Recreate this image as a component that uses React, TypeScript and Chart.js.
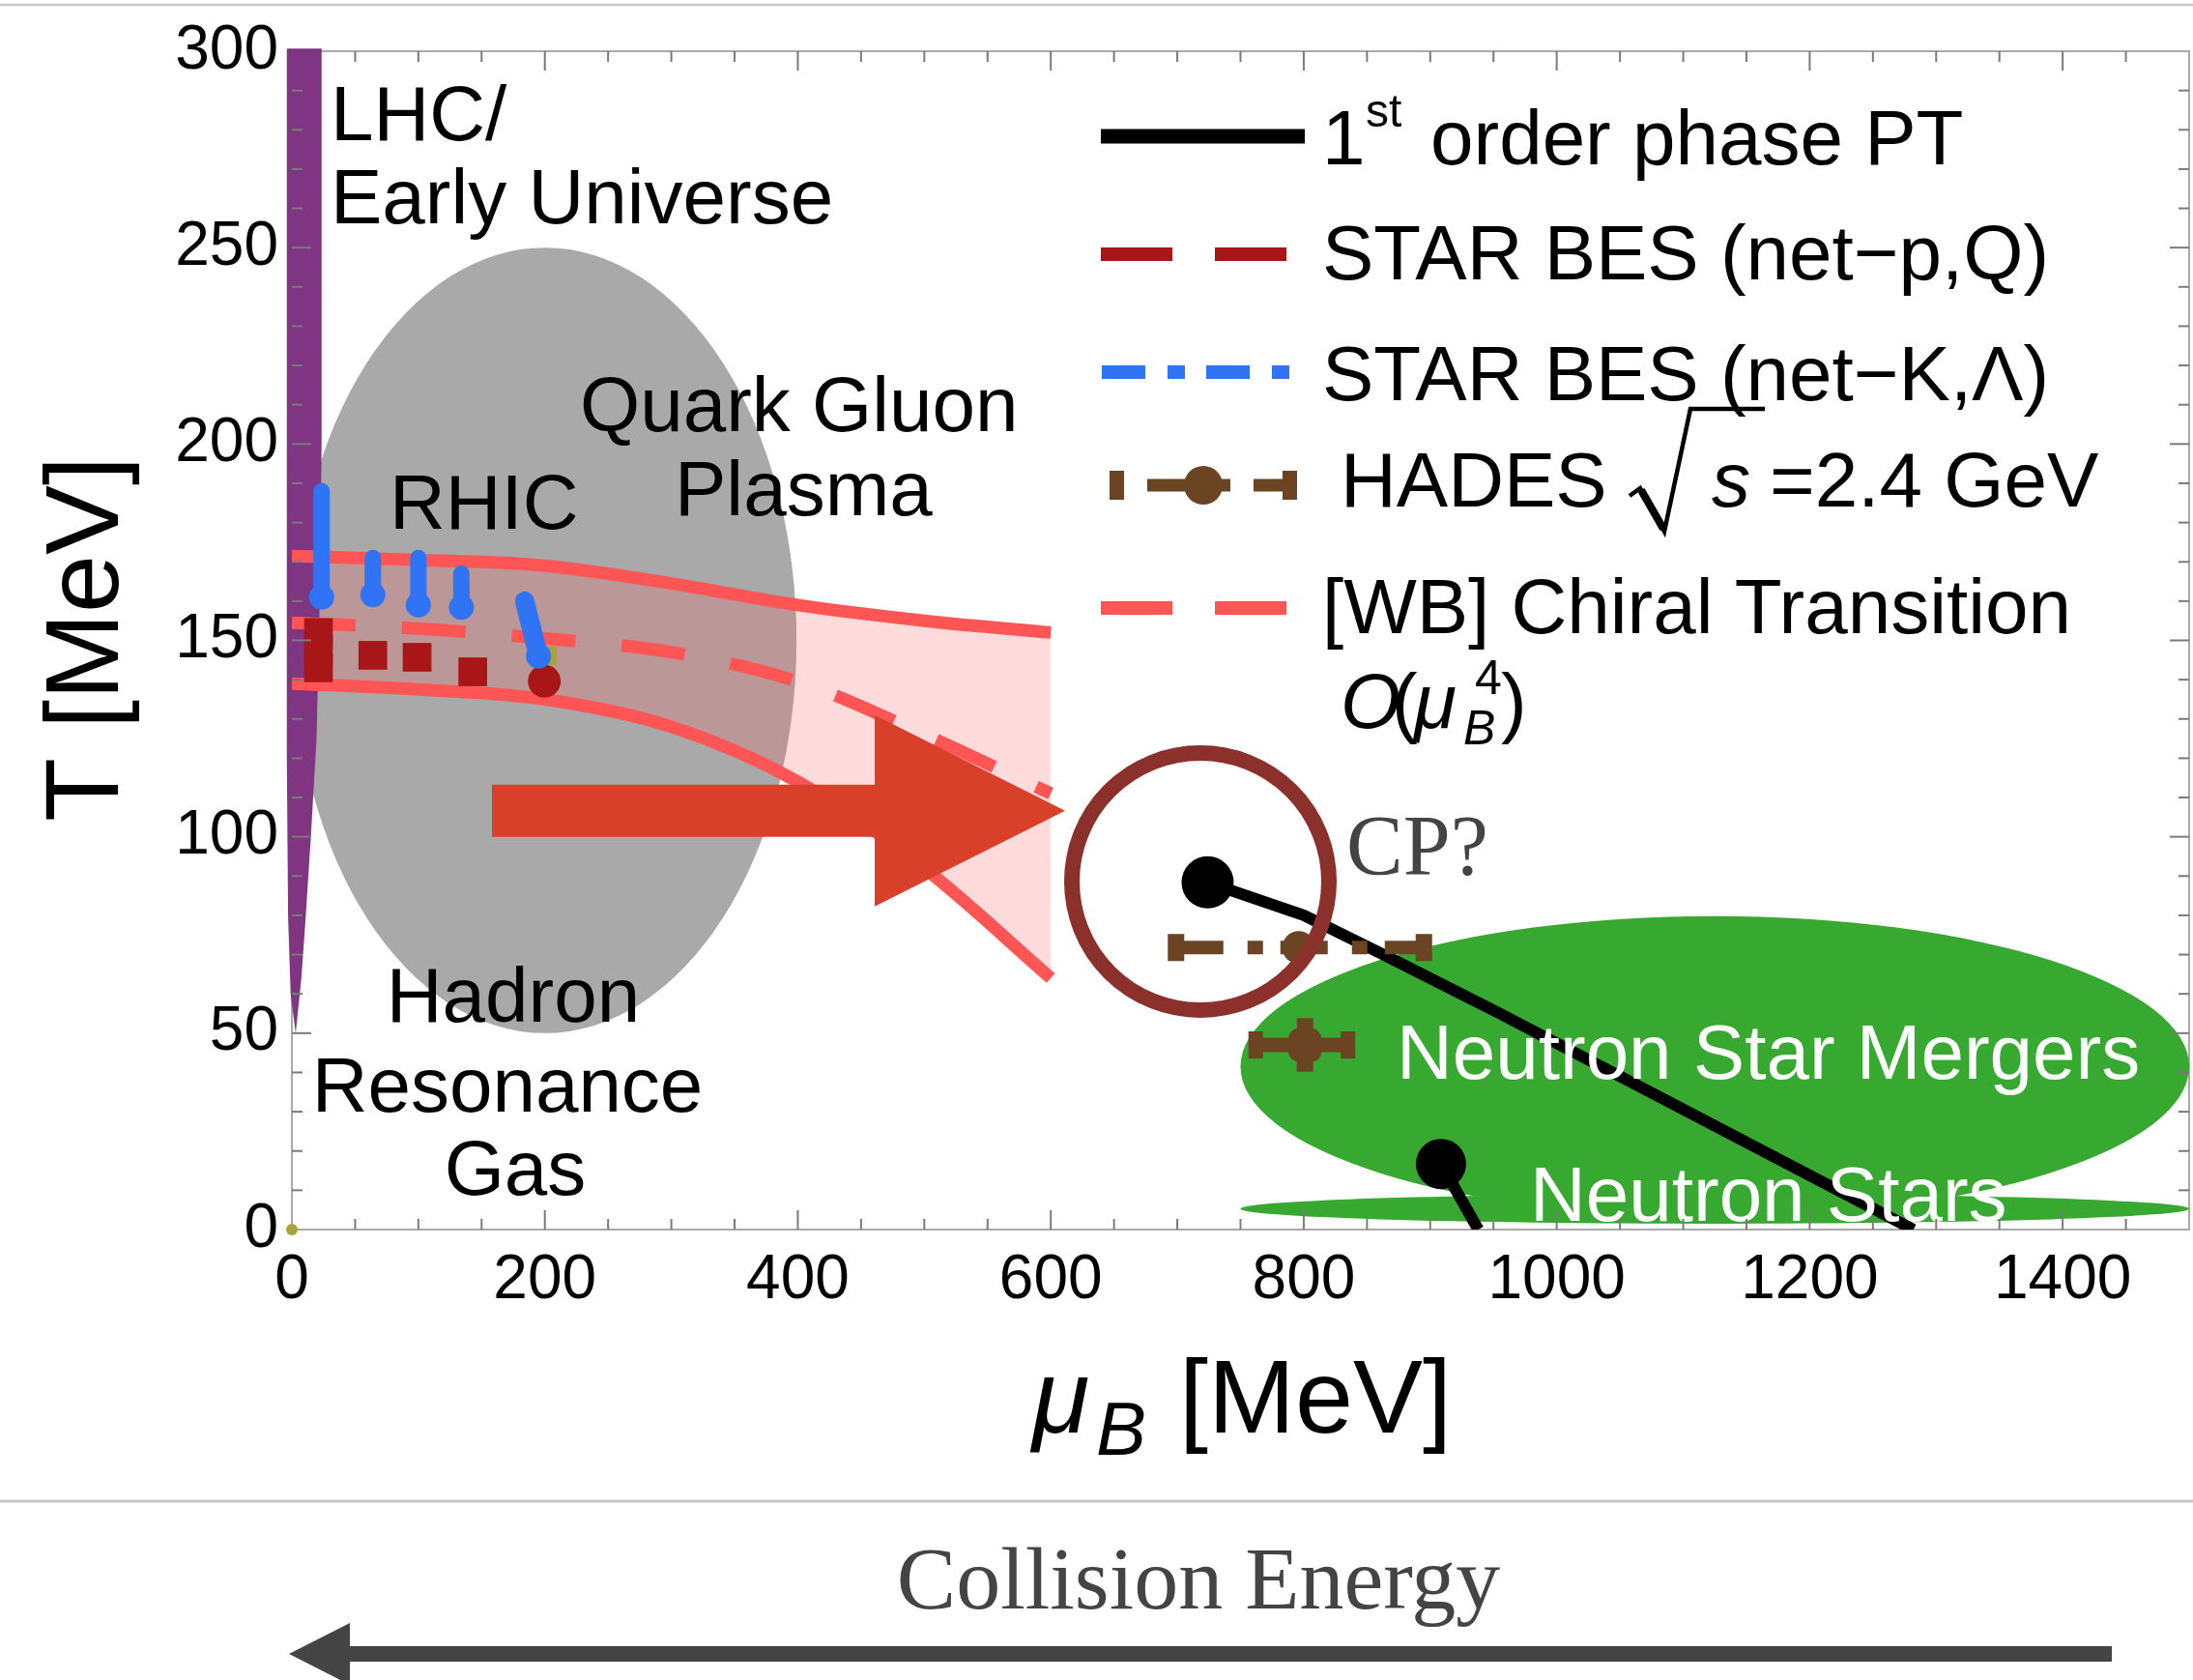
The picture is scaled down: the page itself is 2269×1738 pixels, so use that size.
import React, { useEffect, useRef } from "react";
import { Chart, registerables } from "chart.js";

Chart.register(...registerables);

const W = 2269;
const H = 1738;
const SANS = '"Liberation Sans", Arial, Helvetica, sans-serif';
const SERIF = '"Liberation Serif", "Times New Roman", Times, serif';

// ---------- axes ----------
const X_RANGE = [0, 1500];
const Y_RANGE = [0, 300];
const X_TICK_VALUES = [0, 200, 400, 600, 800, 1000, 1200, 1400];
const Y_TICK_VALUES = [0, 50, 100, 150, 200, 250, 300];
const X_MINOR_STEP = 50;
const X_MAJOR_STEP = 200;
const Y_MINOR_STEP = 10;
const Y_MAJOR_STEP = 50;

// ---------- LHC / Early Universe band (outline, mu, T) ----------
const LHC_MU = [-4, 23.5, 23.5, 22, 19.5, 15, 11, 7.5, 3, -1, -3, -4, -4];
const LHC_T = [300.7, 300.7, 200, 160, 125, 100, 80, 64, 50, 60, 80, 120, 300.7];

// ---------- [WB] chiral transition O(muB^4) ----------
const WB_MU = [0, 100, 200, 300, 400, 500, 600];
const WB_UPPER = [171.5, 170.5, 169, 164.5, 159, 155, 152];
const WB_CENTER = [154.5, 153, 150.5, 147, 139.5, 126, 111];
const WB_LOWER = [139, 137.5, 135, 128, 114, 92, 64];

// ---------- STAR BES (net-p, Q) ----------
const NETP_MU = [21, 21, 21, 64, 99, 143];
const NETP_T = [152, 147.5, 143, 146.2, 145.7, 142];
const NETQ_MU = [199.6];
const NETQ_T = [139.6];

// ---------- STAR BES (net-K, Lambda): error bars low -> high ----------
const NETK_MU_LOW = [23.5, 64, 100, 134, 195];
const NETK_T_LOW = [161, 161.6, 159, 158.4, 146];
const NETK_MU_HIGH = [23.5, 64, 100, 134, 184];
const NETK_T_HIGH = [188, 171, 171, 167, 160];

// ---------- other small marks ----------
const OLIVE_MU = [203, 203];
const OLIVE_T = [143.6, 148.5];
const ORIGIN_MU = [0];
const ORIGIN_T = [0];

// ---------- 1st order phase transition ----------
const FOPT_MU = [724, 800, 860, 955, 1282];
const FOPT_T = [88.4, 80, 70.5, 55, 0];
const FOPT2_MU = [908.5, 938];
const FOPT2_T = [16.7, 0];

// ---------- HADES sqrt(s)=2.4 GeV ----------
const HADES_MU = [797];
const HADES_T = [71.8];
const HADES_XERR = [98];

// ---------- brown point in neutron star merger region ----------
const NSM_MU = [801];
const NSM_T = [47];
const NSM_XERR = [39];
const NSM_YERR = [6.85];

// ---------- regions ----------
const QGP_ELLIPSE = { cx: 200, cy: 150, rx: 199, ry: 100 };
const NSM_ELLIPSE = { cx: 1125, cy: 41.5, rx: 375, ry: 38.3 };
const NS_ELLIPSE = { cx: 1125, cy: 5.3, rx: 375, ry: 3.8 };
const CP_RING = { mu: 718.3, t: 88.6 };
const RED_ARROW_MU = [158.2, 460.8, 611.3];
const RED_ARROW_T = 106.6;

// ---------- colours ----------
const PURPLE = "#7f3581";
const GRAY = "#a9a9a9";
const PINK_LINE = "#ff5555";
const PINK_FILL = "rgba(255,85,85,0.21)";
const DARK_RED = "#a81617";
const BLUE = "#2f74f5";
const OLIVE = "#a8a43a";
const BROWN = "#6b4423";
const GREEN = "#37a830";
const RING = "#8b302b";
const ARROW_RED = "#d94029";

const LHC_LABEL = "LHC/Early Universe";

const pts = (xs: number[], ys: number[]) => xs.map((x, i) => ({ x, y: ys[i] }));

function buildDatasets() {
  const ds: any[] = [];
  const base = { pointRadius: 0, fill: false, tension: 0, borderColor: "transparent", pointBorderWidth: 0 };
  // 0,1: pink band fill (invisible borders)
  ds.push({ ...base, label: "WB band upper", data: pts(WB_MU, WB_UPPER), fill: 1, backgroundColor: PINK_FILL, cubicInterpolationMode: "monotone", order: 100 });
  ds.push({ ...base, label: "WB band lower", data: pts(WB_MU, WB_LOWER), cubicInterpolationMode: "monotone", order: 99 });
  // purple LHC band (filled by plugin from the element positions, unclipped)
  ds.push({ ...base, label: LHC_LABEL, data: pts(LHC_MU, LHC_T), order: 90, clip: false });
  // WB lines
  const wbLine = { ...base, borderColor: PINK_LINE, borderWidth: 13, cubicInterpolationMode: "monotone", order: 80 };
  ds.push({ ...wbLine, label: "WB upper", data: pts(WB_MU, WB_UPPER) });
  ds.push({ ...wbLine, label: "WB lower", data: pts(WB_MU, WB_LOWER) });
  ds.push({ ...wbLine, label: "[WB] Chiral Transition", data: pts(WB_MU, WB_CENTER), borderDash: [66, 48] });
  // olive
  ds.push({ ...base, label: "olive", data: pts(OLIVE_MU, OLIVE_T), borderColor: OLIVE, borderWidth: 17, order: 70 });
  ds.push({ ...base, label: "origin", data: pts(ORIGIN_MU, ORIGIN_T), showLine: false, pointRadius: 6, pointBackgroundColor: OLIVE, order: 70, clip: false });
  // STAR net-p squares & circle
  ds.push({ ...base, label: "STAR BES (net-p,Q)", data: pts(NETP_MU, NETP_T), showLine: false, pointStyle: "rect", pointRadius: 21, pointBackgroundColor: DARK_RED, order: 60 });
  ds.push({ ...base, label: "STAR BES (Q)", data: pts(NETQ_MU, NETQ_T), showLine: false, pointStyle: "circle", pointRadius: 17, pointBackgroundColor: DARK_RED, order: 60 });
  // STAR net-K columns
  NETK_MU_LOW.forEach((m, i) => {
    ds.push({
      ...base,
      label: "STAR BES (net-K,Λ)",
      data: [{ x: m, y: NETK_T_LOW[i] }, { x: NETK_MU_HIGH[i], y: NETK_T_HIGH[i] }],
      borderColor: BLUE,
      borderWidth: i === 4 ? 20 : 17,
      borderCapStyle: "round",
      pointRadius: [13, 0],
      pointBackgroundColor: BLUE,
      order: 55,
    });
  });
  // black 1st order lines
  ds.push({ ...base, label: "1st order phase PT", data: pts(FOPT_MU, FOPT_T), borderColor: "#000", borderWidth: 12, borderJoinStyle: "round", pointRadius: [27, 0, 0, 0, 0], pointBackgroundColor: "#000", order: 40 });
  ds.push({ ...base, label: "1st order phase PT (NS)", data: pts(FOPT2_MU, FOPT2_T), borderColor: "#000", borderWidth: 12, pointRadius: [26, 0], pointBackgroundColor: "#000", order: 40 });
  // HADES
  const CAP = 3.45;
  HADES_MU.forEach((m, i) => {
    const t = HADES_T[i];
    const e = HADES_XERR[i];
    ds.push({ ...base, label: "HADES", data: [{ x: m - e, y: t }, { x: m + e, y: t }], borderColor: BROWN, borderWidth: 14, borderDash: [49, 25, 16, 18], order: 30 });
    ds.push({ ...base, label: "HADES cap", data: [{ x: m - e, y: t - CAP }, { x: m - e, y: t + CAP }], borderColor: BROWN, borderWidth: 17, order: 30 });
    ds.push({ ...base, label: "HADES cap", data: [{ x: m + e, y: t - CAP }, { x: m + e, y: t + CAP }], borderColor: BROWN, borderWidth: 17, order: 30 });
    ds.push({ ...base, label: "HADES point", data: [{ x: m - 1, y: t }], showLine: false, pointRadius: 17, pointBackgroundColor: BROWN, order: 29 });
  });
  NSM_MU.forEach((m, i) => {
    const t = NSM_T[i];
    const ex = NSM_XERR[i];
    const ey = NSM_YERR[i];
    ds.push({ ...base, label: "NSM", data: [{ x: m - ex + 4, y: t }, { x: m + ex, y: t }], borderColor: BROWN, borderWidth: 15, order: 30 });
    ds.push({ ...base, label: "NSM cap", data: [{ x: m - ex, y: t - CAP }, { x: m - ex, y: t + CAP }], borderColor: BROWN, borderWidth: 15, order: 30 });
    ds.push({ ...base, label: "NSM cap", data: [{ x: m + ex - 5, y: t - CAP }, { x: m + ex - 5, y: t + CAP }], borderColor: BROWN, borderWidth: 15, order: 30 });
    ds.push({ ...base, label: "NSM v", data: [{ x: m, y: t - ey }, { x: m, y: t + ey }], borderColor: BROWN, borderWidth: 17, order: 30 });
    ds.push({ ...base, label: "NSM point", data: [{ x: m, y: t }], showLine: false, pointStyle: "rectRounded", pointRadius: 20, pointBackgroundColor: BROWN, order: 29 });
  });
  return ds;
}

function txt(ctx: CanvasRenderingContext2D, s: string, x: number, y: number, font: string, color = "#000", align: CanvasTextAlign = "left") {
  ctx.font = font;
  ctx.fillStyle = color;
  ctx.textAlign = align;
  ctx.textBaseline = "alphabetic";
  ctx.fillText(s, x, y);
}

function ellipse(ctx: CanvasRenderingContext2D, xs: any, ys: any, e: { cx: number; cy: number; rx: number; ry: number }, color: string) {
  const X = xs.getPixelForValue(e.cx);
  const Y = ys.getPixelForValue(e.cy);
  const RX = Math.abs(xs.getPixelForValue(e.cx + e.rx) - X);
  const RY = Math.abs(ys.getPixelForValue(e.cy + e.ry) - Y);
  ctx.beginPath();
  ctx.ellipse(X, Y, RX, RY, 0, 0, Math.PI * 2);
  ctx.fillStyle = color;
  ctx.fill();
}

const overlay = {
  id: "overlay",
  beforeDatasetsDraw(chart: any) {
    const { ctx, chartArea: a } = chart;
    const xs = chart.scales.x;
    const ys = chart.scales.y;
    ctx.save();
    ctx.strokeStyle = "#aaaaaa";
    ctx.lineWidth = 2;
    ctx.strokeRect(a.left, a.top, a.right - a.left, a.bottom - a.top);
    ctx.beginPath();
    ctx.rect(a.left, a.top, a.right - a.left, a.bottom - a.top);
    ctx.clip();
    ellipse(ctx, xs, ys, QGP_ELLIPSE, GRAY);
    ellipse(ctx, xs, ys, NSM_ELLIPSE, GREEN);
    ellipse(ctx, xs, ys, NS_ELLIPSE, GREEN);
    ctx.restore();
  },
  afterDatasetDraw(chart: any, args: any) {
    const dset = chart.data.datasets[args.index];
    if (!dset || dset.label !== LHC_LABEL) return;
    const { ctx } = chart;
    const el = args.meta.data;
    ctx.save();
    ctx.beginPath();
    el.forEach((p: any, i: number) => (i ? ctx.lineTo(p.x, p.y) : ctx.moveTo(p.x, p.y)));
    ctx.closePath();
    ctx.fillStyle = PURPLE;
    ctx.fill();
    ctx.restore();
  },
  afterDatasetsDraw(chart: any) {
    const { ctx, chartArea: a } = chart;
    const xs = chart.scales.x;
    const ys = chart.scales.y;
    const X = (v: number) => xs.getPixelForValue(v);
    const Y = (v: number) => ys.getPixelForValue(v);
    const F80 = `80px ${SANS}`;
    ctx.save();

    // white labels on green
    txt(ctx, "Neutron Star Mergers", 1445, 1116, F80, "#ffffff");
    txt(ctx, "Neutron Stars", 1583, 1263, F80, "#ffffff");

    // red arrow
    const ay = Y(RED_ARROW_T);
    const x0 = X(RED_ARROW_MU[0]);
    const x1 = X(RED_ARROW_MU[1]);
    const x2 = X(RED_ARROW_MU[2]);
    ctx.fillStyle = ARROW_RED;
    ctx.beginPath();
    ctx.moveTo(x0, ay - 27);
    ctx.lineTo(x1, ay - 27);
    ctx.lineTo(x1, ay - 99);
    ctx.lineTo(x2, ay);
    ctx.lineTo(x1, ay + 99);
    ctx.lineTo(x1, ay + 27);
    ctx.lineTo(x0, ay + 27);
    ctx.closePath();
    ctx.fill();

    // CP ring
    ctx.strokeStyle = RING;
    ctx.lineWidth = 16;
    ctx.beginPath();
    ctx.arc(X(CP_RING.mu), Y(CP_RING.t), 133, 0, Math.PI * 2);
    ctx.stroke();

    // region labels
    txt(ctx, "LHC/", 342, 145, F80);
    txt(ctx, "Early Universe", 342, 231, F80);
    txt(ctx, "Quark Gluon", 600, 446, F80);
    txt(ctx, "Plasma", 698, 533, F80);
    txt(ctx, "RHIC", 403, 547, F80);
    txt(ctx, "Hadron", 531, 1057, F80, "#000", "center");
    txt(ctx, "Resonance", 525, 1150, F80, "#000", "center");
    txt(ctx, "Gas", 533, 1236, F80, "#000", "center");
    txt(ctx, "CP?", 1393, 904, `88px ${SERIF}`, "#444444");

    // ---------- legend ----------
    ctx.lineCap = "butt";
    // row 1
    ctx.strokeStyle = "#000";
    ctx.lineWidth = 15;
    ctx.setLineDash([]);
    ctx.beginPath();
    ctx.moveTo(1139, 141);
    ctx.lineTo(1350, 141);
    ctx.stroke();
    txt(ctx, "1", 1368, 170, F80);
    txt(ctx, "st", 1413, 131, `48px ${SANS}`);
    txt(ctx, "order phase PT", 1480, 170, F80);
    // row 2
    ctx.strokeStyle = DARK_RED;
    ctx.lineWidth = 14;
    ctx.setLineDash([74, 44]);
    ctx.beginPath();
    ctx.moveTo(1139, 263);
    ctx.lineTo(1331, 263);
    ctx.stroke();
    txt(ctx, "STAR BES (net\u2212p,Q)", 1368, 289, F80);
    // row 3
    ctx.strokeStyle = BLUE;
    ctx.setLineDash([45, 23, 18, 22]);
    ctx.beginPath();
    ctx.moveTo(1140, 385);
    ctx.lineTo(1336, 385);
    ctx.stroke();
    txt(ctx, "STAR BES (net\u2212K,\u039B)", 1368, 414, F80);
    // row 4 HADES
    ctx.setLineDash([]);
    ctx.fillStyle = BROWN;
    ctx.fillRect(1148, 487, 15, 30);
    ctx.fillRect(1187, 495.5, 86, 13);
    ctx.fillRect(1297, 495.5, 30, 13);
    ctx.fillRect(1327, 487, 15, 30);
    ctx.beginPath();
    ctx.arc(1245, 502, 20, 0, Math.PI * 2);
    ctx.fill();
    txt(ctx, "HADES", 1387, 524, F80);
    ctx.strokeStyle = "#000";
    ctx.lineJoin = "miter";
    ctx.lineWidth = 4.5;
    ctx.beginPath();
    ctx.moveTo(1686, 513);
    ctx.lineTo(1697, 505);
    ctx.lineTo(1722, 550);
    ctx.lineTo(1749, 423);
    ctx.lineTo(1826, 423);
    ctx.stroke();
    ctx.lineWidth = 8;
    ctx.beginPath();
    ctx.moveTo(1698, 507);
    ctx.lineTo(1721, 547);
    ctx.stroke();
    txt(ctx, "s", 1771, 524, `italic 80px ${SANS}`);
    txt(ctx, "=2.4 GeV", 1831, 524, F80);
    // row 5
    ctx.strokeStyle = PINK_LINE;
    ctx.lineWidth = 14;
    ctx.setLineDash([74, 44]);
    ctx.beginPath();
    ctx.moveTo(1139, 629);
    ctx.lineTo(1331, 629);
    ctx.stroke();
    ctx.setLineDash([]);
    txt(ctx, "[WB] Chiral Transition", 1368, 655, F80);
    // row 6
    txt(ctx, "O", 1387, 753, `italic 80px ${SANS}`);
    txt(ctx, "(", 1440, 753, F80);
    txt(ctx, "\u03BC", 1463, 753, `italic 80px ${SANS}`);
    txt(ctx, "4", 1526, 718, `50px ${SANS}`);
    txt(ctx, "B", 1514, 770, `italic 50px ${SANS}`);
    txt(ctx, ")", 1553, 753, F80);

    // ---------- ticks on all four sides ----------
    ctx.strokeStyle = "#7a7a7a";
    ctx.lineWidth = 2;
    const seg = (ax: number, ay2: number, bx: number, by: number) => {
      ctx.beginPath();
      ctx.moveTo(ax, ay2);
      ctx.lineTo(bx, by);
      ctx.stroke();
    };
    for (let v = X_RANGE[0] + X_MINOR_STEP; v < X_RANGE[1]; v += X_MINOR_STEP) {
      const p = X(v);
      const len = v % X_MAJOR_STEP === 0 ? 20 : 11;
      seg(p, a.bottom, p, a.bottom - len);
      seg(p, a.top, p, a.top + len);
    }
    for (let v = Y_RANGE[0] + Y_MINOR_STEP; v < Y_RANGE[1]; v += Y_MINOR_STEP) {
      const p = Y(v);
      const len = v % Y_MAJOR_STEP === 0 ? 20 : 11;
      seg(a.left, p, a.left + len, p);
      seg(a.right, p, a.right - len, p);
    }
    ctx.restore();
  },
  afterDraw(chart: any) {
    const { ctx } = chart;
    ctx.save();
    // axis titles
    txt(ctx, "\u03BC", 1068, 1482, `italic 108px ${SANS}`);
    txt(ctx, "B", 1134, 1505, `italic 78px ${SANS}`);
    txt(ctx, "[MeV]", 1220, 1482, `108px ${SANS}`);
    ctx.save();
    ctx.translate(122, 661);
    ctx.rotate(-Math.PI / 2);
    txt(ctx, "T [MeV]", 0, 0, `108px ${SANS}`, "#000", "center");
    ctx.restore();
    // separators
    ctx.strokeStyle = "#c8c8c8";
    ctx.lineWidth = 2.5;
    ctx.beginPath();
    ctx.moveTo(0, 5);
    ctx.lineTo(W, 5);
    ctx.stroke();
    ctx.lineWidth = 3;
    ctx.beginPath();
    ctx.moveTo(0, 1553);
    ctx.lineTo(W, 1553);
    ctx.stroke();
    // collision energy
    txt(ctx, "Collision Energy", 1240, 1664, `92px ${SERIF}`, "#444444", "center");
    ctx.fillStyle = "#444444";
    ctx.beginPath();
    ctx.moveTo(2185, 1703);
    ctx.lineTo(362, 1703);
    ctx.lineTo(362, 1679);
    ctx.lineTo(299, 1711);
    ctx.lineTo(362, 1743);
    ctx.lineTo(362, 1719);
    ctx.lineTo(2185, 1719);
    ctx.closePath();
    ctx.fill();
    ctx.restore();
  },
};

export default function App() {
  const ref = useRef<HTMLCanvasElement | null>(null);
  useEffect(() => {
    if (!ref.current) return;
    Chart.defaults.font.family = SANS;
    const chart = new Chart(ref.current, {
      type: "line",
      data: { datasets: buildDatasets() },
      options: {
        animation: false,
        responsive: true,
        maintainAspectRatio: false,
        devicePixelRatio: 1,
        events: [],
        layout: { autoPadding: false, padding: { top: 53, right: 4, left: 0, bottom: 0 } },
        plugins: { legend: { display: false }, tooltip: { enabled: false }, title: { display: false } },
        scales: {
          x: {
            type: "linear",
            min: X_RANGE[0],
            max: X_RANGE[1],
            grid: { display: false },
            border: { display: false },
            ticks: {
              font: { size: 64, family: SANS },
              color: "#000",
              padding: 7,
              maxRotation: 0,
              includeBounds: false,
              callback: (v: any) => String(v),
            },
            afterBuildTicks: (s: any) => {
              s.ticks = X_TICK_VALUES.map((v) => ({ value: v }));
            },
            afterFit: (s: any) => {
              s.height = H - 1272;
              s.paddingLeft = 0;
              s.paddingRight = 0;
            },
          },
          y: {
            type: "linear",
            min: Y_RANGE[0],
            max: Y_RANGE[1],
            grid: { display: false },
            border: { display: false },
            ticks: {
              font: { size: 64, family: SANS },
              color: "#000",
              padding: 6,
              includeBounds: false,
              callback: (v: any) => String(v),
            },
            afterBuildTicks: (s: any) => {
              s.ticks = Y_TICK_VALUES.map((v) => ({ value: v }));
            },
            afterFit: (s: any) => {
              s.width = 302;
              s.paddingTop = 0;
              s.paddingBottom = 0;
            },
          },
        },
      } as any,
      plugins: [overlay],
    });
    return () => chart.destroy();
  }, []);
  return (
    <div style={{ position: "absolute", left: 0, top: 0, width: W, height: H }}>
      <canvas ref={ref} />
    </div>
  );
}
